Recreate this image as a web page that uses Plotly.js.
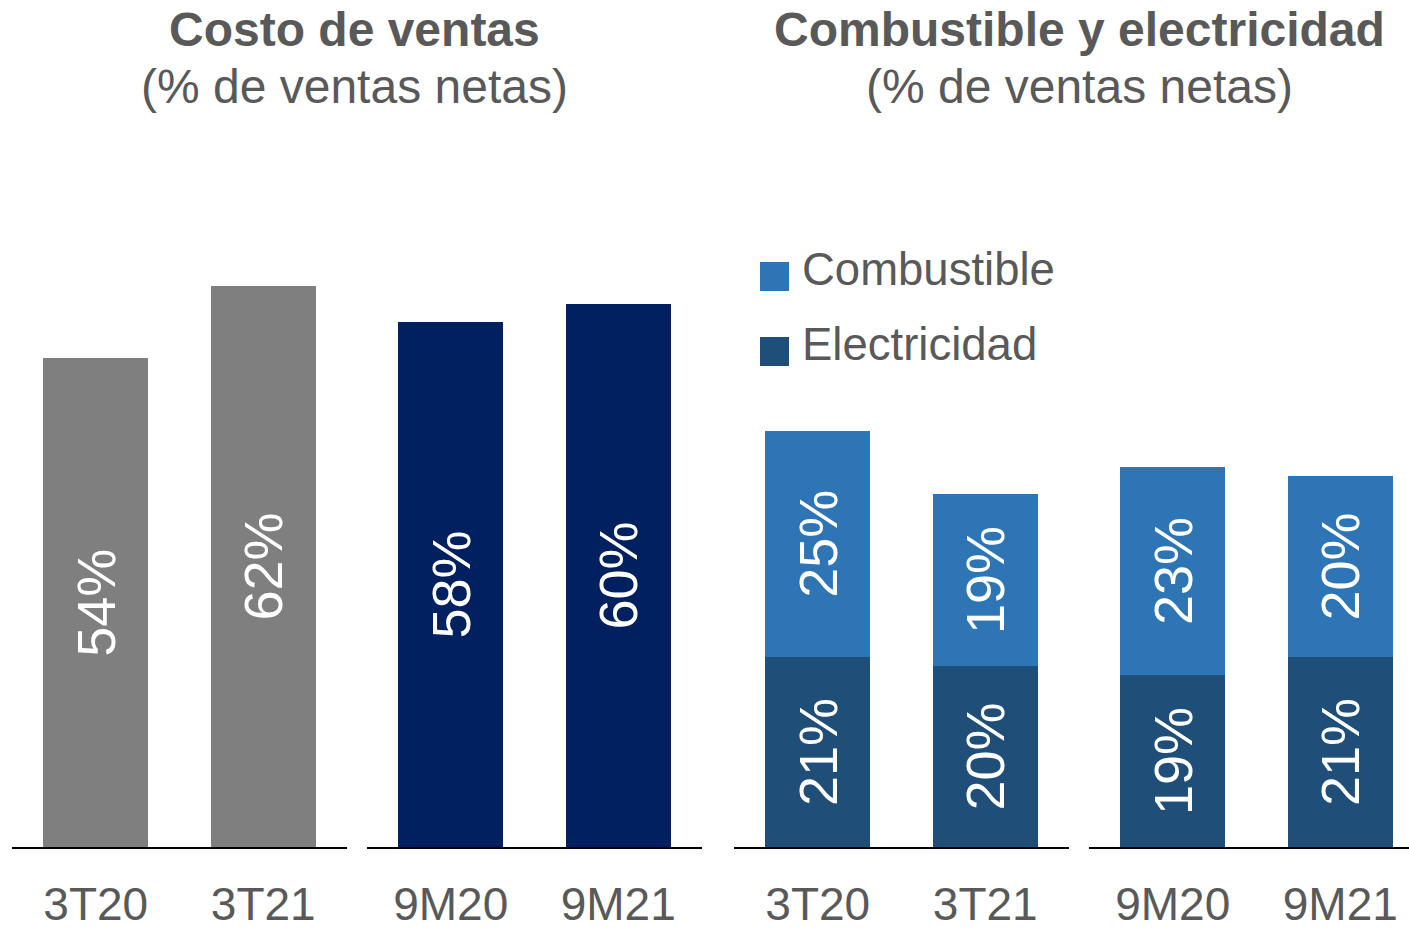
<!DOCTYPE html>
<html>
<head>
<meta charset="utf-8">
<script src="https://cdn.plot.ly/plotly-3.0.1.min.js"></script>
<style>html,body{margin:0;padding:0;background:#fff;}#chart{width:1409px;height:930px;}</style>
</head>
<body>
<div id="chart"></div>
<script>
// ---- data ----
const catTrim = ['3T20', '3T21'];
const cat9M = ['9M20', '9M21'];
const costoTrim = [54, 62];
const costo9M = [58, 60];
const combTrim = [25, 19];
const comb9M = [23, 20];
const elecTrim = [21, 20];
const elec9M = [19, 21];
const seriesNames = ['Combustible', 'Electricidad'];
const titleLeft = ['Costo de ventas', '(% de ventas netas)'];
const titleRight = ['Combustible y electricidad', '(% de ventas netas)'];

// ---- style ----
const W = 1409, H = 930, B = 83, PH = H - B;
const GRAY = '#7F7F7F', NAVY = '#002060', FUEL = '#2E75B6', ELEC = '#1F4E79', TXT = '#595959';
const FONT = 'Liberation Sans, Arial, sans-serif';
const px = v => v / W;
const py = v => 1 - v / PH;

function barTrace(x, y, color, xa, name) {
  return {
    type: 'bar', x: x, y: y, name: name || '', xaxis: xa, yaxis: 'y',
    marker: {color: color, line: {width: 0}},
    text: y.map(v => v + '%'), textposition: 'inside', insidetextanchor: 'middle',
    textangle: -90, constraintext: 'none',
    textfont: {family: FONT, size: 54, color: '#ffffff'},
    hoverinfo: 'x+y', showlegend: false, cliponaxis: false
  };
}

const data = [
  barTrace(catTrim, costoTrim, GRAY, 'x'),
  barTrace(cat9M, costo9M, NAVY, 'x2'),
  barTrace(catTrim, elecTrim, ELEC, 'x3', seriesNames[1]),
  barTrace(catTrim, combTrim, FUEL, 'x3', seriesNames[0]),
  barTrace(cat9M, elec9M, ELEC, 'x4', seriesNames[1]),
  barTrace(cat9M, comb9M, FUEL, 'x4', seriesNames[0])
];

function xaxis(d0, d1, range) {
  return {
    domain: [px(d0), px(d1)], anchor: 'y', type: 'category', range: range,
    showline: true, linecolor: '#000000', linewidth: 2, showgrid: false, zeroline: false,
    ticks: '', ticklabelstandoff: 16,
    tickfont: {family: FONT, size: 46, color: TXT}, fixedrange: true
  };
}

const annotations = [];
function addTitle(lines, cx) {
  annotations.push({text: '<b>' + lines[0] + '</b>', x: px(cx), y: py(30), xref: 'paper', yref: 'paper',
    xanchor: 'center', yanchor: 'middle', showarrow: false, font: {family: FONT, size: 48, color: TXT}});
  annotations.push({text: lines[1], x: px(cx), y: py(87), xref: 'paper', yref: 'paper',
    xanchor: 'center', yanchor: 'middle', showarrow: false, font: {family: FONT, size: 48, color: TXT}});
}
addTitle(titleLeft, 355);
addTitle(titleRight, 1079);

const legendColors = [FUEL, ELEC];
const legendY = [276, 351];
const shapes = [];
seriesNames.forEach((n, i) => {
  shapes.push({type: 'rect', xref: 'paper', yref: 'paper', x0: px(760), x1: px(789),
    y0: py(legendY[i] + 15), y1: py(legendY[i] - 14), fillcolor: legendColors[i], line: {width: 0}});
  annotations.push({text: n, x: px(800), y: py(legendY[i] - 7), xref: 'paper', yref: 'paper',
    xanchor: 'left', yanchor: 'middle', showarrow: false, font: {family: FONT, size: 45.5, color: TXT}});
});

const layout = {
  width: W, height: H,
  margin: {l: 0, r: 0, t: 0, b: B, pad: 0},
  paper_bgcolor: '#ffffff', plot_bgcolor: 'rgba(0,0,0,0)',
  barmode: 'stack', bargap: 0.373, showlegend: false,
  xaxis: xaxis(12, 347, [-0.5, 1.5]),
  xaxis2: xaxis(367, 702, [-0.5, 1.5]),
  xaxis3: xaxis(734, 1069, [-0.5, 1.5]),
  xaxis4: xaxis(1089, 1409, [-0.5, 1.4104]),
  yaxis: {range: [0, PH / 9.05], visible: false, fixedrange: true},
  annotations: annotations, shapes: shapes
};

Plotly.newPlot('chart', data, layout, {displayModeBar: false, staticPlot: true});
</script>
</body>
</html>
